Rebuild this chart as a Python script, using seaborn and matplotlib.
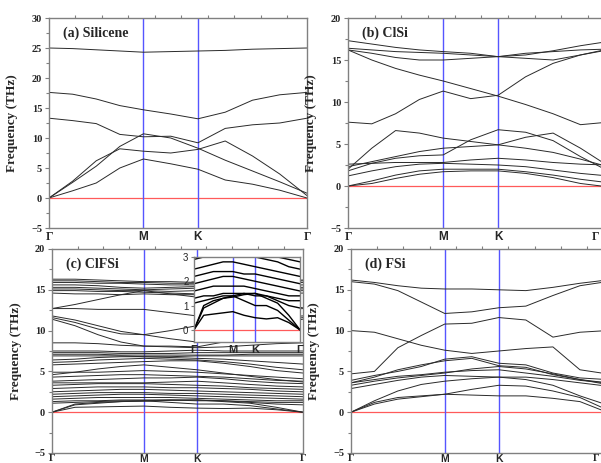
import matplotlib
matplotlib.use("Agg")
import matplotlib.pyplot as plt
import numpy as np
import pandas as pd
import seaborn as sns
from matplotlib.ticker import MultipleLocator

# ---------------- data ----------------
# k-path distances along Γ-M-K-Γ (hexagonal BZ, |ΓM| = 1)
k_points = [0.0, 0.25, 0.5, 0.75, 1.0, 1.289, 1.577, 1.866, 2.155, 2.443, 2.732]
k_ticks = [0.0, 1.0, 1.577, 2.732]
k_labels = ["Γ", "M", "K", "Γ"]
k_M = 1.0
k_K = 1.577

silicene_bands = [
    [25.0, 24.9, 24.7, 24.5, 24.3, 24.4, 24.5, 24.6, 24.8, 24.9, 25.0],
    [17.6, 17.3, 16.5, 15.4, 14.7, 14.0, 13.2, 14.3, 16.3, 17.2, 17.6],
    [13.3, 12.9, 12.4, 10.6, 10.2, 10.3, 9.2, 11.6, 12.2, 12.5, 13.3],
    [0.0, 2.6, 5.3, 8.6, 10.7, 10.0, 8.3, 6.3, 4.5, 2.7, 0.8],
    [0.0, 2.8, 6.2, 8.2, 7.8, 7.5, 8.1, 9.5, 7.0, 4.0, 0.4],
    [0.0, 1.2, 2.5, 5.0, 6.5, 5.7, 4.8, 3.0, 2.3, 1.3, 0.0],
]

clsi_bands = [
    [17.3, 16.9, 16.5, 16.2, 16.0, 15.8, 15.4, 15.6, 16.1, 16.7, 17.2],
    [16.4, 16.2, 16.0, 15.9, 15.8, 15.6, 15.4, 15.2, 15.0, 15.6, 16.3],
    [16.2, 15.8, 15.3, 15.0, 15.0, 15.2, 15.4, 15.8, 16.0, 16.2, 16.3],
    [16.2, 15.0, 14.0, 13.2, 12.5, 11.6, 10.7, 9.7, 8.6, 7.3, 7.6],
    [7.6, 7.4, 8.6, 10.3, 11.3, 10.4, 10.8, 13.0, 14.6, 15.6, 16.2],
    [2.0, 4.5, 6.6, 6.3, 5.7, 5.3, 4.9, 4.5, 4.0, 3.2, 2.3],
    [2.3, 2.9, 3.5, 4.1, 4.5, 4.7, 4.9, 5.8, 6.3, 4.5, 2.4],
    [1.8, 2.7, 3.3, 3.6, 3.7, 5.5, 6.7, 6.4, 5.4, 3.5, 1.8],
    [2.6, 2.7, 2.8, 2.8, 2.8, 3.1, 3.3, 3.1, 2.8, 2.6, 2.5],
    [1.2, 1.8, 2.3, 2.6, 2.7, 2.6, 2.5, 2.3, 1.9, 1.5, 1.2],
    [0.0, 0.6, 1.3, 1.8, 2.0, 2.0, 2.0, 1.7, 1.3, 0.8, 0.4],
    [0.0, 0.3, 0.9, 1.4, 1.7, 1.8, 1.8, 1.5, 1.0, 0.3, -0.1],
]

clfsi_bands = [
    [16.3, 16.3, 16.2, 16.1, 16.0, 16.0, 15.9, 15.9, 16.0, 16.1, 16.2],
    [16.1, 16.1, 16.0, 15.9, 15.9, 15.8, 15.8, 15.8, 15.9, 16.0, 16.1],
    [15.9, 15.9, 15.8, 15.8, 15.7, 15.6, 15.6, 15.6, 15.7, 15.8, 15.9],
    [15.6, 15.6, 15.5, 15.3, 15.2, 15.3, 15.4, 15.4, 15.5, 15.5, 15.6],
    [15.3, 15.3, 15.2, 15.1, 15.0, 15.1, 15.2, 15.2, 15.3, 15.3, 15.3],
    [15.1, 15.1, 15.0, 14.9, 14.9, 14.8, 14.9, 15.0, 15.1, 15.1, 15.1],
    [14.9, 14.9, 14.8, 14.8, 14.7, 14.6, 14.5, 14.6, 14.7, 14.8, 14.9],
    [14.6, 14.5, 14.5, 14.4, 14.5, 14.4, 14.4, 14.4, 14.5, 14.5, 14.6],
    [12.7, 13.2, 13.8, 14.4, 14.9, 14.5, 14.1, 13.9, 13.6, 13.2, 12.8],
    [12.7, 12.7, 12.6, 12.6, 12.6, 12.2, 11.8, 11.9, 12.2, 12.5, 12.7],
    [11.8, 11.3, 10.6, 9.9, 9.5, 10.0, 10.6, 10.9, 11.3, 11.6, 11.8],
    [11.6, 11.0, 10.2, 9.6, 9.5, 9.0, 8.6, 9.3, 10.3, 11.1, 11.6],
    [11.4, 10.6, 9.5, 8.6, 8.1, 8.1, 8.0, 8.6, 9.8, 10.8, 11.4],
    [8.5, 8.5, 8.4, 8.2, 8.1, 8.0, 7.9, 8.0, 8.2, 8.4, 8.5],
    [7.5, 7.5, 7.5, 7.4, 7.4, 7.5, 7.6, 7.5, 7.5, 7.5, 7.5],
    [7.3, 7.3, 7.3, 7.2, 7.2, 7.2, 7.3, 7.3, 7.3, 7.3, 7.3],
    [7.1, 7.1, 7.1, 7.0, 7.0, 7.0, 7.0, 7.0, 7.1, 7.1, 7.1],
    [6.9, 6.9, 6.9, 6.9, 6.8, 6.8, 6.9, 6.9, 6.9, 6.9, 6.9],
    [6.4, 6.5, 6.7, 6.8, 6.8, 6.7, 6.6, 6.5, 6.3, 6.1, 5.9],
    [6.1, 6.2, 6.4, 6.5, 6.6, 6.5, 6.4, 6.2, 5.9, 5.5, 5.2],
    [5.8, 5.9, 6.0, 6.1, 6.2, 6.3, 6.3, 6.0, 5.6, 5.1, 4.8],
    [4.6, 4.9, 5.3, 5.6, 5.8, 5.5, 5.2, 4.8, 4.4, 4.0, 3.7],
    [4.9, 4.9, 4.9, 5.0, 5.1, 5.0, 4.9, 4.7, 4.5, 4.3, 4.1],
    [4.3, 4.4, 4.5, 4.6, 4.6, 4.5, 4.4, 4.3, 4.1, 3.9, 3.8],
    [3.8, 3.9, 4.0, 4.1, 4.2, 4.2, 4.3, 4.1, 3.8, 3.6, 3.5],
    [3.6, 3.6, 3.6, 3.6, 3.6, 3.7, 3.8, 3.6, 3.4, 3.2, 3.1],
    [3.3, 3.4, 3.5, 3.5, 3.5, 3.4, 3.3, 3.2, 3.0, 2.9, 2.8],
    [2.9, 3.0, 3.1, 3.1, 3.1, 3.0, 3.0, 2.9, 2.8, 2.6, 2.5],
    [2.5, 2.6, 2.7, 2.8, 2.8, 2.7, 2.6, 2.5, 2.4, 2.3, 2.2],
    [2.2, 2.3, 2.4, 2.4, 2.4, 2.3, 2.3, 2.2, 2.1, 2.0, 1.9],
    [1.9, 2.0, 2.1, 2.2, 2.2, 2.1, 2.0, 1.9, 1.8, 1.7, 1.6],
    [1.6, 1.7, 1.8, 1.8, 1.8, 1.8, 1.7, 1.6, 1.5, 1.4, 1.4],
    [1.3, 1.4, 1.4, 1.5, 1.5, 1.5, 1.4, 1.4, 1.3, 1.2, 1.2],
    [1.1, 1.2, 1.3, 1.4, 1.4, 1.5, 1.5, 1.4, 1.2, 1.0, 0.9],
    [0.0, 1.0, 1.2, 1.3, 1.4, 1.2, 1.0, 1.0, 0.8, 0.4, 0.0],
    [0.0, 0.6, 0.65, 0.7, 0.75, 0.6, 0.5, 0.45, 0.5, 0.3, 0.0],
    [0.0, 0.9, 1.1, 1.3, 1.35, 1.45, 1.5, 1.3, 1.1, 0.6, 0.0],
]

fsi_bands = [
    [16.2, 15.9, 15.5, 15.2, 15.1, 15.1, 15.0, 14.9, 15.3, 15.8, 16.2],
    [16.0, 15.7, 14.9, 13.5, 12.1, 12.3, 12.8, 13.0, 14.3, 15.5, 16.0],
    [10.0, 9.8, 9.0, 8.2, 7.6, 7.2, 7.5, 7.8, 8.0, 5.2, 4.7],
    [4.7, 5.0, 7.9, 9.4, 10.8, 10.9, 11.6, 11.3, 9.2, 9.8, 10.0],
    [3.9, 4.5, 5.0, 5.6, 6.5, 6.8, 6.0, 5.8, 4.8, 4.2, 4.0],
    [3.6, 4.3, 5.2, 5.8, 6.3, 6.6, 5.7, 5.5, 4.6, 4.0, 3.6],
    [3.3, 3.8, 4.2, 4.5, 4.8, 5.3, 5.6, 5.3, 4.7, 4.0, 3.4],
    [2.9, 3.4, 3.9, 4.3, 4.5, 4.4, 4.3, 4.3, 4.0, 3.6, 3.2],
    [3.6, 4.0, 4.4, 4.6, 4.9, 5.1, 5.2, 4.8, 4.4, 3.9, 3.6],
    [0.0, 1.4, 2.6, 3.4, 3.8, 4.1, 4.3, 4.0, 3.3, 2.0, 0.9],
    [0.0, 1.2, 1.8, 2.0, 2.2, 2.8, 3.3, 3.2, 2.6, 1.8, 0.3],
    [0.0, 1.0, 1.6, 1.9, 2.2, 2.1, 2.0, 2.0, 1.7, 1.3, 0.0],
]

panel_titles = ["(a) Silicene", "(b) ClSi", "(c) ClFSi", "(d) FSi"]
panel_ylims = [(-5, 30), (-5, 20), (-5, 20), (-5, 20)]

# ---------------- style ----------------
sns.set_theme(style="white")
plt.rcParams["font.family"] = ["Liberation Serif", "DejaVu Serif"]
SERIF = ["Liberation Serif", "DejaVu Serif"]
SANS = ["Liberation Sans", "DejaVu Sans"]
LINE_C = "#2a2a2a"
SPINE_C = "#808080"
RED = "#ff5a5a"
BLUE = "#5555ff"


def to_long(bands):
    rows = []
    for b, vals in enumerate(bands):
        for k, f in zip(k_points, vals):
            rows.append({"k": k, "f": f, "band": b})
    return pd.DataFrame(rows)


def style_axis(ax, ylim, inset=False, bottom_row=False, right_col=False):
    ax.set_xlim(k_points[0], k_points[-1])
    ax.set_ylim(*ylim)
    for s in ax.spines.values():
        s.set_color(SPINE_C)
        s.set_linewidth(1.0)
    ax.axhline(0, color=RED, lw=0.9, zorder=1)
    for kv in (k_M, k_K):
        ax.axvline(kv, color=BLUE, lw=1.0, zorder=1)
    labels = list(k_labels)
    if right_col:
        labels[-1] = ""
    ax.set_xticks(k_ticks)
    ax.set_xticklabels(labels)
    ax.tick_params(axis="x", which="major", length=0,
                   pad=0.8 if bottom_row else 2.5)
    if inset:
        ax.yaxis.set_major_locator(MultipleLocator(1))
        ax.tick_params(axis="y", which="major", left=True, length=2.5,
                       width=0.8, color=SPINE_C, direction="out", pad=1.5)
        for lab in ax.get_yticklabels():
            lab.set_fontfamily(SANS)
            lab.set_fontsize(7)
        for lab in ax.get_xticklabels():
            lab.set_fontfamily(SANS)
            lab.set_fontsize(8)
            lab.set_fontweight("bold")
    else:
        ax.yaxis.set_major_locator(MultipleLocator(5))
        ax.yaxis.set_minor_locator(MultipleLocator(2.5))
        ax.xaxis.set_minor_locator(MultipleLocator(0.28))
        ax.tick_params(axis="y", which="major", left=True, length=3,
                       width=0.8, color=SPINE_C, direction="out", pad=2)
        ax.tick_params(axis="y", which="minor", left=True, length=2,
                       width=0.8, color=SPINE_C, direction="out")
        ax.tick_params(axis="x", which="minor", top=True, bottom=False,
                       length=2.5, width=0.8, color=SPINE_C, direction="out")
        for lab in ax.get_yticklabels():
            lab.set_fontfamily(SERIF)
            lab.set_fontsize(7.5)
            lab.set_fontweight("bold")
        for lab, txt in zip(ax.get_xticklabels(), labels):
            lab.set_fontfamily(SERIF if txt == "Γ" else SANS)
            lab.set_fontsize(7.5 if bottom_row else 8.5)
            lab.set_fontweight("bold")


fig = plt.figure(figsize=(6.01, 4.63), dpi=100)
W, H = 601.0, 463.0
rects = [
    (49, 18, 258, 210),
    (348, 18, 260, 210),
    (52, 249, 251, 204),
    (351, 249, 256, 204),
]
all_bands = [silicene_bands, clsi_bands, clfsi_bands, fsi_bands]

axes = []
for i, ((x0, y0, w, h), bands, title, ylim) in enumerate(
        zip(rects, all_bands, panel_titles, panel_ylims)):
    ax = fig.add_axes([x0 / W, 1 - (y0 + h) / H, w / W, h / H])
    df = to_long(bands)
    sns.lineplot(data=df, x="k", y="f", units="band", estimator=None,
                 sort=False, color=LINE_C, lw=0.7, legend=False, ax=ax, zorder=2)
    right_col = (i % 2 == 1)
    bottom_row = (i >= 2)
    style_axis(ax, ylim, bottom_row=bottom_row, right_col=right_col)
    ax.set_xlabel("")
    ax.set_ylabel("Frequency (THz)", fontsize=9.5, fontweight="bold",
                  fontfamily=SERIF)
    ax.yaxis.set_label_coords(-0.12, 0.5)
    ax.text(0.055, 0.925, title, transform=ax.transAxes, fontsize=10,
            fontweight="bold", fontfamily=SERIF, va="center", ha="left")
    if right_col:
        # closing Γ of the path, kept inside the figure edge
        ytxt = (y0 + h + (1 if bottom_row else 3)) / H
        fig.text(0.997, 1 - ytxt, k_labels[-1], ha="right", va="top",
                 fontsize=7.5 if bottom_row else 8.5, fontweight="bold",
                 fontfamily=SERIF)
    axes.append(ax)

# inset in panel (c)
ax_in = fig.add_axes([194 / W, 1 - 342 / H, 106 / W, 85 / H])
ax_in.set_facecolor("white")
df_in = to_long(clfsi_bands)
sns.lineplot(data=df_in, x="k", y="f", units="band", estimator=None,
             sort=False, color="black", lw=1.0, legend=False, ax=ax_in, zorder=2)
style_axis(ax_in, (-0.5, 3), inset=True)
ax_in.set_xlabel("")
ax_in.set_ylabel("")

fig.savefig("out.png", dpi=100)
